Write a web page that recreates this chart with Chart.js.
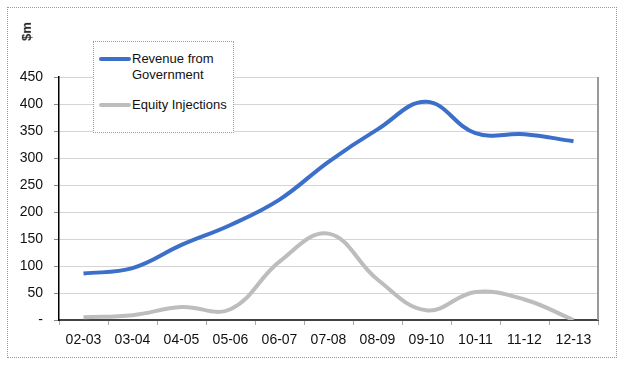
<!DOCTYPE html>
<html>
<head>
<meta charset="utf-8">
<script src="https://cdn.jsdelivr.net/npm/chart.js@4/dist/chart.umd.min.js"></script>
<style>
  body { margin: 0; background: #fff; font-family: "Liberation Sans", Arial, sans-serif; }
  #wrap { position: relative; width: 625px; height: 367px; }
  #frame { position: absolute; left: 7px; top: 7px; width: 608px; height: 349px; border: 1px dotted #999; }
  #c { position: absolute; left: 0; top: 0; }
  #unit { position: absolute; left: 17px; top: 24px; font-size: 13px; font-weight: bold; color: #222;
          transform: rotate(-90deg); transform-origin: center; }
  #legend { position: absolute; left: 93px; top: 41px; width: 139px; height: 90px; border: 1px dotted #999;
            background: #fff; font-size: 13px; color: #111; }
  .item { position: absolute; left: 5px; display: flex; align-items: flex-start; }
  .swatch { width: 32px; height: 4px; margin-top: 6px; border-radius: 2px; }
  .lbl { line-height: 16px; margin-left: 1px; }
</style>
</head>
<body>
<div id="wrap">
  <div id="frame"></div>
  <canvas id="c" width="625" height="367"></canvas>
  <div id="unit">$m</div>
  <div id="legend"></div>
</div>
<script>
// years on x axis
var years = ['02-03','03-04','04-05','05-06','06-07','07-08','08-09','09-10','10-11','11-12','12-13'];
var revenue = [86, 96, 139, 176, 223, 293, 353, 404, 346, 344, 331];
var equity = [5, 9, 24, 20, 108, 160, 75, 18, 52, 38, 0];
var seriesNames = ['Revenue from<br>Government', 'Equity Injections'];
var seriesColors = ['#3b6fca', '#bdbdbd'];

// legend
var leg = document.getElementById('legend');
var tops = [9, 55];
seriesNames.forEach(function (n, i) {
  var d = document.createElement('div');
  d.className = 'item';
  d.style.top = tops[i] + 'px';
  d.innerHTML = '<div class="swatch" style="background:' + seriesColors[i] + '"></div><div class="lbl">' + n + '</div>';
  leg.appendChild(d);
});

// gray line on right side of plot
var rightBorder = {
  id: 'rightBorder',
  afterDraw: function (chart) {
    var a = chart.chartArea, ctx = chart.ctx;
    ctx.save();
    ctx.strokeStyle = '#999';
    ctx.lineWidth = 2;
    ctx.beginPath();
    ctx.moveTo(a.right, a.top);
    ctx.lineTo(a.right, a.bottom);
    ctx.stroke();
    ctx.restore();
  }
};

const myChart = new Chart(document.getElementById('c'), {
  type: 'line',
  data: {
    labels: years,
    datasets: [{
      label: 'Revenue from Government',
      data: revenue,
      borderColor: seriesColors[0],
      borderWidth: 4,
      pointRadius: 0,
      tension: 0.4,
      fill: false
    }, {
      label: 'Equity Injections',
      data: equity,
      borderColor: seriesColors[1],
      borderWidth: 4,
      pointRadius: 0,
      tension: 0.4,
      fill: false
    }]
  },
  options: {
    responsive: false,
    animation: false,
    layout: { padding: { left: 0, top: 77, right: 27, bottom: 0 } },
    plugins: { legend: { display: false }, tooltip: { enabled: false } },
    scales: {
      x: {
        offset: true,
        grid: { drawOnChartArea: false, drawTicks: true, tickLength: 5, offset: true, tickColor: '#aaa' },
        border: { color: '#444', width: 2 },
        ticks: { color: '#111', font: { family: 'Liberation Sans', size: 14 }, padding: 7, maxRotation: 0, autoSkip: false },
        afterFit: function (s) { s.height = 47; }
      },
      y: {
        min: 0,
        max: 450,
        grid: { color: '#aaa', lineWidth: 1, tickLength: 5, tickColor: '#888' },
        border: { color: '#000', width: 1.5, dash: [1, 1] },
        ticks: {
          stepSize: 50,
          color: '#111',
          font: { family: 'Liberation Sans', size: 14 },
          padding: 11,
          callback: function (v) { return v === 0 ? '-' : v; }
        },
        afterFit: function (s) { s.width = 59; }
      }
    }
  },
  plugins: [rightBorder]
});
</script>
</body>
</html>
